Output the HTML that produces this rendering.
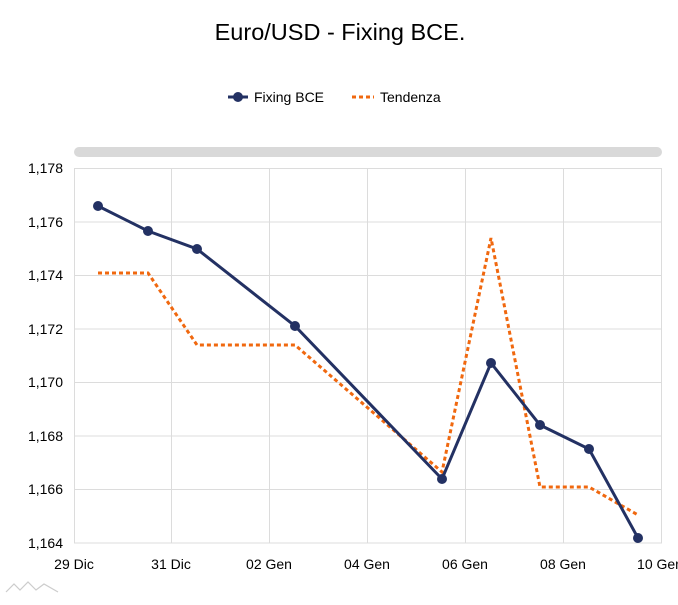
<!DOCTYPE html>
<html><head><meta charset="utf-8"><style>
body{margin:0;background:#fff;width:678px;height:600px;overflow:hidden;font-family:"Liberation Sans",sans-serif}
</style></head><body>
<svg width="678" height="600" xmlns="http://www.w3.org/2000/svg" font-family="Liberation Sans, sans-serif">
<text x="340" y="40" text-anchor="middle" font-size="23.5" fill="#000">Euro/USD - Fixing BCE.</text>
<line x1="228" y1="97" x2="248" y2="97" stroke="#233163" stroke-width="3"/>
<circle cx="238" cy="97" r="5" fill="#233163"/>
<text x="254" y="102" font-size="14" fill="#000">Fixing BCE</text>
<line x1="352" y1="97" x2="374" y2="97" stroke="#f0680f" stroke-width="3" stroke-dasharray="4,3"/>
<text x="380" y="102" font-size="14" fill="#000">Tendenza</text>
<rect x="74" y="147" width="588" height="10" rx="5" fill="#d9d9d9"/>
<g stroke="#dcdcdc" stroke-width="1">
<line x1="74" y1="168.5" x2="662" y2="168.5"/><line x1="74" y1="222" x2="662" y2="222"/>
<line x1="74" y1="275.5" x2="662" y2="275.5"/><line x1="74" y1="329" x2="662" y2="329"/>
<line x1="74" y1="382.5" x2="662" y2="382.5"/><line x1="74" y1="436" x2="662" y2="436"/>
<line x1="74" y1="489.5" x2="662" y2="489.5"/><line x1="74" y1="543" x2="662" y2="543"/>
<line x1="74.5" y1="168" x2="74.5" y2="543"/><line x1="171.5" y1="168" x2="171.5" y2="543"/>
<line x1="269.5" y1="168" x2="269.5" y2="543"/><line x1="367.5" y1="168" x2="367.5" y2="543"/>
<line x1="465.5" y1="168" x2="465.5" y2="543"/><line x1="563.5" y1="168" x2="563.5" y2="543"/>
<line x1="661.5" y1="168" x2="661.5" y2="543"/>
</g>
<g font-size="14" fill="#000" text-anchor="end">
<text x="63" y="173">1,178</text><text x="63" y="227">1,176</text><text x="63" y="280">1,174</text>
<text x="63" y="334">1,172</text><text x="63" y="387">1,170</text><text x="63" y="441">1,168</text>
<text x="63" y="494">1,166</text><text x="63" y="548">1,164</text>
</g>
<g font-size="14" fill="#000" text-anchor="middle">
<text x="74" y="569">29 Dic</text><text x="171" y="569">31 Dic</text><text x="269" y="569">02 Gen</text>
<text x="367" y="569">04 Gen</text><text x="465" y="569">06 Gen</text><text x="563" y="569">08 Gen</text>
<text x="660" y="569">10 Gen</text>
</g>
<polyline fill="none" stroke="#f0680f" stroke-width="3" stroke-dasharray="4,3" points="98,273 148,273 197,345 295,345 442,472 491,238 540,487 589,487 638,515"/>
<polyline fill="none" stroke="#233163" stroke-width="3" points="98,206 148,231 197,249 295,326 442,479 491,363 540,425 589,449 638,538"/>
<g fill="#233163">
<circle cx="98" cy="206" r="5"/><circle cx="148" cy="231" r="5"/><circle cx="197" cy="249" r="5"/>
<circle cx="295" cy="326" r="5"/><circle cx="442" cy="479" r="5"/><circle cx="491" cy="363" r="5"/>
<circle cx="540" cy="425" r="5"/><circle cx="589" cy="449" r="5"/><circle cx="638" cy="538" r="5"/>
</g>
<polyline fill="none" stroke="#ccc" stroke-width="1.2" points="6,592 14,584 20,590 28,582 36,590 44,584 58,592"/>
</svg>
</body></html>
